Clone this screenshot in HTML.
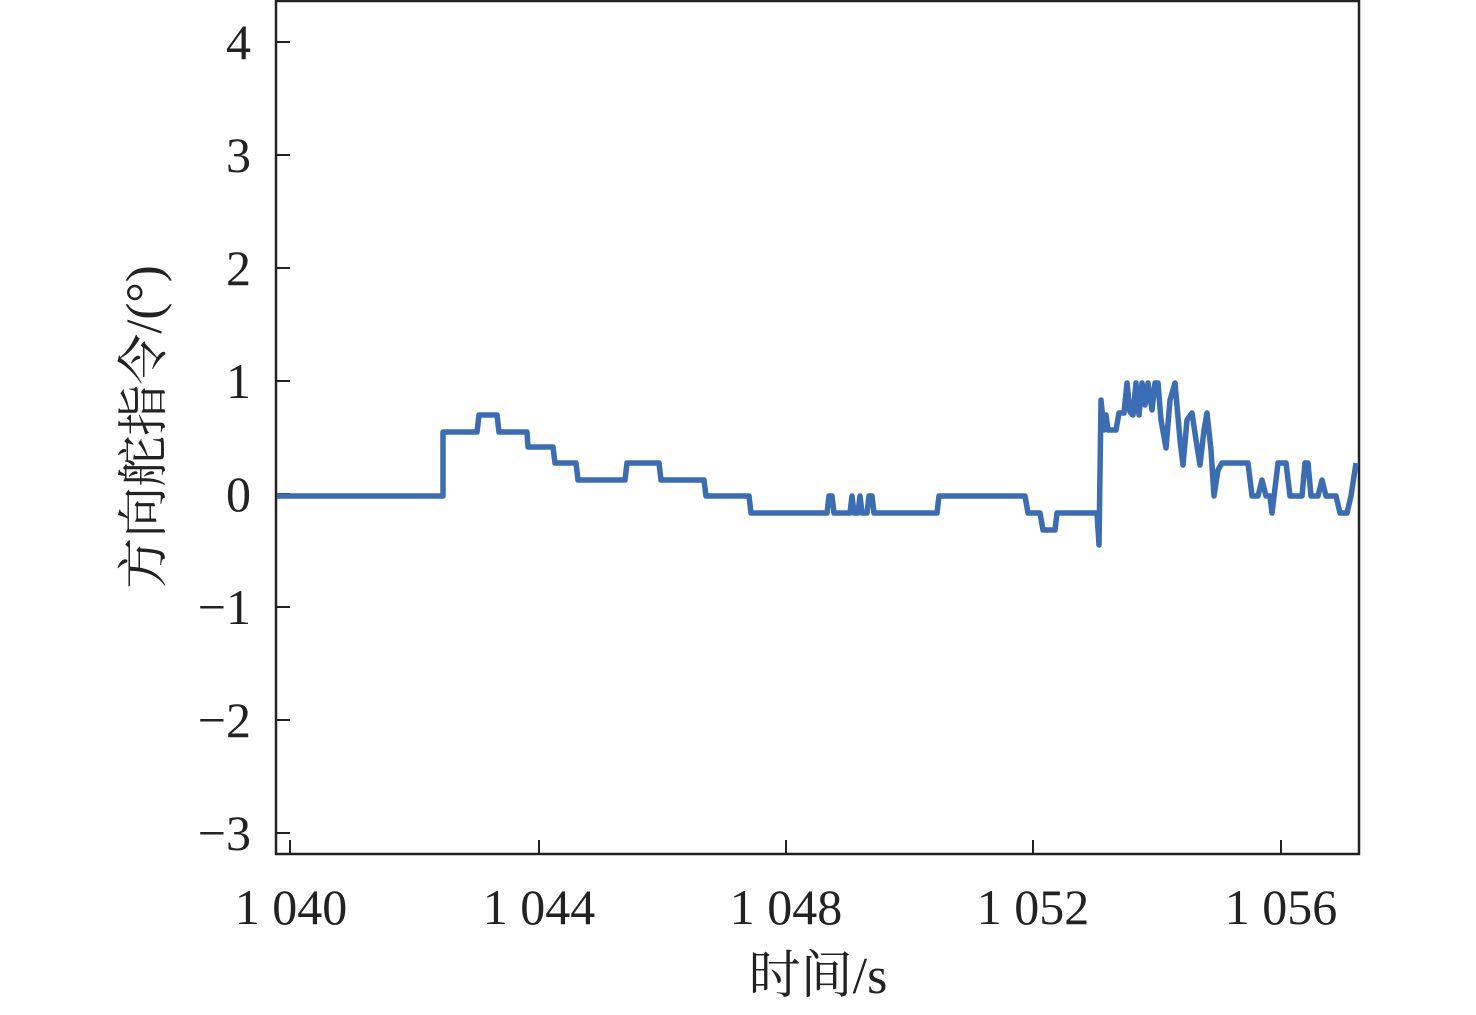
<!DOCTYPE html>
<html><head><meta charset="utf-8"><style>
body{margin:0;background:#fff}
text{font-family:"Liberation Serif","Noto Serif CJK SC",serif;fill:#222}
</style></head><body>
<svg width="1476" height="1010" xmlns="http://www.w3.org/2000/svg">
<rect x="276" y="1" width="1083" height="853" fill="none" stroke="#222" stroke-width="2.5"/>
<g stroke="#222" stroke-width="2">
<line x1="276" y1="42" x2="290" y2="42"/><line x1="276" y1="155" x2="290" y2="155"/>
<line x1="276" y1="268" x2="290" y2="268"/><line x1="276" y1="381" x2="290" y2="381"/>
<line x1="276" y1="494" x2="290" y2="494"/><line x1="276" y1="607" x2="290" y2="607"/>
<line x1="276" y1="720" x2="290" y2="720"/><line x1="276" y1="833" x2="290" y2="833"/>
<line x1="290" y1="854" x2="290" y2="840"/><line x1="539" y1="854" x2="539" y2="840"/>
<line x1="786" y1="854" x2="786" y2="840"/><line x1="1033" y1="854" x2="1033" y2="840"/>
<line x1="1281" y1="854" x2="1281" y2="840"/>
</g>
<g font-size="50" text-anchor="end">
<text x="251" y="59">4</text><text x="251" y="172">3</text><text x="251" y="285">2</text>
<text x="251" y="398">1</text><text x="251" y="511">0</text><text x="251" y="624">−1</text>
<text x="251" y="737">−2</text><text x="251" y="850">−3</text>
</g>
<g font-size="50" text-anchor="middle">
<text x="291" y="924">1 040</text><text x="539" y="924">1 044</text><text x="786" y="924">1 048</text>
<text x="1033" y="924">1 052</text><text x="1281" y="924">1 056</text>
<text x="818" y="993" font-size="52">时间/s</text>
</g>
<text font-size="51" text-anchor="middle" transform="translate(161,427) rotate(-90)">方向舵指令/(°)</text>
<polyline fill="none" stroke="#3a6db3" stroke-width="5.5" stroke-linejoin="round" points="
277,496 443,496 443,432 477,432 479,415 497,415 499,432 527,432 528,447 553,447 555,463 576,463 578,480 625,480 627,463 659,463 661,480 704,480 706,496 749,496 751,513 827,513 829,496 832,496 834,513 850,513 852,496 854,513 858,513 860,496 862,513 867,513 869,496 872,496 874,513 937,513 939,496 1025,496 1028,513 1040,513 1043,530 1055,530 1057,513 1097,513 1099,545 1101,400 1104,430 1106,415 1108,430 1116,430 1119,413 1124,413 1127,383 1130,412 1133,415 1136,383 1139,415 1142,383 1145,405 1148,383 1152,410 1155,383 1158,383 1161,420 1166,448 1170,400 1175,383 1180,440 1183,465 1187,420 1192,413 1196,440 1200,465 1204,430 1207,413 1211,450 1214,496 1218,470 1222,463 1248,463 1252,496 1258,496 1262,480 1266,496 1270,496 1272,513 1276,480 1278,463 1286,463 1290,496 1302,496 1305,463 1308,463 1311,496 1318,496 1322,480 1326,496 1336,496 1340,513 1347,513 1351,496 1356,463"/>
</svg>
</body></html>
